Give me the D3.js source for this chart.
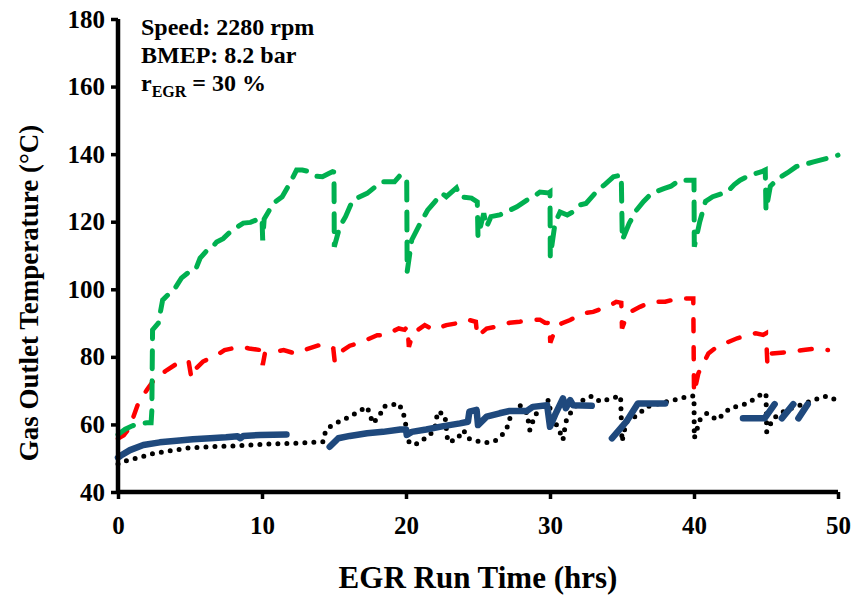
<!DOCTYPE html>
<html>
<head>
<meta charset="utf-8">
<script src="https://cdn.jsdelivr.net/npm/d3@7"></script>
<style>
  html, body { margin: 0; padding: 0; background: #fff; }
  svg { display: block; }
  text { font-family: "Liberation Serif", "Times New Roman", serif; font-weight: bold; fill: #000; }
</style>
</head>
<body>
<svg id="chart" width="855" height="595"></svg>
<script>
// ---------------- data (EGR run time in hrs, temperature in °C) ----------------
const xTicks = [0, 10, 20, 30, 40, 50];
const yTicks = [40, 60, 80, 100, 120, 140, 160, 180];
const xTitle = "EGR Run Time (hrs)";
const yTitle = "Gas Outlet Temperature (°C)";
const notes = ["Speed: 2280 rpm", "BMEP: 8.2 bar"];

const greenSeries = [[0,57],[0.5,58.6],[1,59.6],[1.5,60.2],[2,60.5],[2.3,60.5],[2.35,64],[2.4,88],[2.8,90],[3.1,96.8],[3.6,98.9],[4.0,100.6],[4.4,103.3],[5.1,105.7],[5.4,106],[5.7,109.2],[6.2,111.6],[6.5,112.2],[6.85,114],[7.3,115],[7.8,117],[8.3,118.5],[8.7,119.6],[9.2,119.8],[9.6,120.5],[10.0,121],[10.05,114.5],[10.15,120.8],[10.8,125.5],[11.4,127.4],[11.94,131.4],[12.4,135.3],[12.8,135.3],[13.3,134.8],[13.7,133.5],[14.2,133.3],[14.6,134.2],[14.9,134.8],[15.0,134.7],[15.02,112.6],[15.4,118.5],[15.8,121.5],[16.3,126.4],[17.3,128.4],[18.3,131.8],[19.2,131.8],[19.6,133.8],[19.9,132.9],[20.05,132.5],[20.08,105.2],[20.4,114.6],[21,119.6],[21.5,123.4],[22,125.9],[22.5,128.4],[22.8,127.4],[23.5,130],[23.75,127.4],[24.55,127],[24.95,125.9],[25.0,115.6],[25.4,122.5],[25.6,118.5],[25.9,121.5],[26.5,122],[27.2,123.4],[27.7,124.4],[28.4,126.4],[28.9,127.5],[29.3,128.8],[29.9,128.5],[30.0,128.8],[30.02,109.6],[30.35,119.6],[30.7,122.9],[31.2,122],[31.6,122.9],[32.1,125],[32.5,125.4],[33.2,128.8],[33.8,131],[34.4,133.3],[34.95,133.8],[35.02,114.6],[35.5,119.5],[36.0,123.4],[36.5,126],[37.05,128.4],[37.9,129.8],[38.4,130.5],[39.0,132.3],[39.95,132.3],[40.0,132.3],[40.02,112.6],[40.4,120],[40.8,126],[41.3,127.4],[42.3,128.8],[42.8,131],[43.2,132.3],[43.9,133.8],[44.7,134.8],[44.95,135.3],[45.0,123.4],[45.3,130.5],[45.85,132.8],[46.5,134.5],[47.1,136.3],[48.3,137.7],[49.2,138.7],[50,139.7]];

const redSeries = [[0,55.8],[0.4,56.8],[0.8,59],[1.4,66.2],[2.0,70.2],[2.57,73.6],[3.4,76.1],[4.2,78.3],[4.9,78.8],[5.1,73.7],[5.45,76.7],[5.9,78.6],[6.85,80.5],[7.4,82],[8.5,83],[9.1,82.5],[9.9,82],[10.05,77.6],[10.2,81],[10.8,81.5],[11.5,82],[12.3,81],[12.9,82],[14.0,83.5],[14.6,83.5],[14.95,82.5],[15.05,78.6],[15.3,81],[16.1,83.3],[16.8,84.2],[18.0,86.4],[18.5,86.4],[19.5,88.4],[19.9,88],[20.1,89],[20.2,83],[20.5,87],[21.3,89.4],[21.9,88],[22.8,89.4],[23.5,89.9],[24.2,91.1],[24.85,90.4],[24.95,86],[25.6,88.4],[26.1,88.8],[27.2,90.1],[27.9,90.4],[28.8,90.9],[29.3,91],[29.65,90.1],[29.95,90],[30.02,84.2],[30.4,88.5],[30.8,89.9],[31.4,90.9],[32.3,92.9],[33.0,93.3],[34.2,95.3],[34.6,96.3],[34.95,96],[35.0,88.4],[35.4,92.9],[36.25,94.8],[37.05,96.3],[38,96.3],[38.9,97.3],[39.95,97.3],[40.0,69.2],[40.3,75.1],[41,81],[41.6,83],[43,85.5],[44.3,87],[44.8,86.5],[45.0,87],[45.1,77.6],[45.4,81],[46.7,81.5],[47.6,82],[48.5,82.5],[49.3,82]];

// null marks a gap in the record
const blueSeries = [[0,50.2],[0.2,50.8],[0.83,52.4],[1.76,53.9],[2.9,54.7],[4.07,55.2],[5.2,55.6],[6.4,55.9],[7.5,56.2],[8.3,56.5],[8.5,55.9],[8.7,56.6],[9.86,56.9],[11.7,57],[11.8,null],[14.7,53.4],[15.3,55.9],[16.1,56.6],[17.3,57.4],[18.4,57.8],[19.6,58.5],[20.0,58.5],[20.05,56.9],[20.4,57.8],[21.4,58.5],[22.6,59.5],[23.75,60.3],[24.3,60.8],[24.4,63.8],[24.9,64.3],[25.0,59.8],[25.6,62.3],[26.5,63.3],[27.2,64],[28.4,64],[28.8,65.2],[29.8,65.7],[30.0,59.3],[30.35,62.8],[30.9,67.7],[31.1,64.8],[31.4,67.2],[31.6,65.7],[32.9,65.5],[33,null],[34.3,55.9],[35.3,60.8],[36.1,66.2],[37.6,66.2],[38.0,66.2],[38.1,null],[43.4,61.8],[44.9,61.8],[45.1,63],[45.6,66],[45.8,null],[46.1,61.8],[46.9,66],[47.0,null],[47.25,61.8],[47.9,66]];

const blackSeries = [[0,48.3],[0.37,49],[1.3,50],[2.45,51.4],[3.6,52.2],[5,53.1],[6.4,53.4],[7.8,53.6],[9.2,53.9],[10.6,54.2],[11.9,54.4],[13.3,54.6],[14.26,54.9],[14.4,57.8],[14.7,59.3],[15.1,60.3],[15.6,61.3],[16.1,62.3],[16.7,63.8],[17.3,65.2],[17.5,62.8],[17.7,60.3],[18.2,62.8],[18.4,65.2],[18.9,65.7],[19.5,66.2],[19.8,63.5],[19.95,61],[20.05,57.4],[20.2,54.9],[20.5,53.9],[21.1,54.9],[21.4,56.4],[21.8,57.5],[22.0,58.8],[22.2,63.8],[22.7,62.8],[22.9,54.9],[23.5,55.4],[24,58.3],[24.3,55.9],[25.1,54.9],[25.6,54.6],[26.2,55.2],[26.8,57.4],[27.1,59.8],[27.3,63.3],[27.9,65.7],[28.4,63.3],[28.6,58.3],[28.9,62],[29.3,65.2],[29.9,67.2],[30.1,62.3],[30.6,58.8],[30.9,55.4],[31.1,60.8],[31.6,64.8],[32.3,67.2],[32.9,68.4],[33.5,66.7],[34.2,67.7],[34.9,68.4],[35.0,54.9],[35.3,60.8],[36.1,62.8],[36.7,65.2],[37.6,66.2],[38.6,67.2],[39.7,68.4],[40.0,68.4],[40.02,55.9],[40.4,61.3],[40.9,63.3],[41.6,61.3],[42.5,64.8],[43.7,66.2],[44.6,68.7],[45.0,69.2],[45.05,57.8],[45.5,61.8],[46.4,64.3],[47.4,65.7],[48.3,67.2],[49.2,68.4],[49.8,67.4]];

// ---------------- drawing ----------------
const svg = d3.select("#chart");
const x = d3.scaleLinear().domain([0, 50]).range([118, 838]);
const y = d3.scaleLinear().domain([40, 180]).range([492, 19]);

const line = d3.line()
  .defined(d => d[1] !== null)
  .x(d => x(d[0]))
  .y(d => y(d[1]));

const plot = svg.append("g");

plot.append("path").datum(blackSeries)
  .attr("d", line).attr("fill", "none")
  .attr("stroke", "#000").attr("stroke-width", 5)
  .attr("stroke-linecap", "round").attr("stroke-dasharray", "0,9");

plot.append("path").datum(blueSeries)
  .attr("d", line).attr("fill", "none")
  .attr("stroke", "#1F497D").attr("stroke-width", 6.5)
  .attr("stroke-linecap", "round").attr("stroke-linejoin", "round");

plot.append("path").datum(redSeries)
  .attr("d", line).attr("fill", "none")
  .attr("stroke", "#FF0000").attr("stroke-width", 4.5)
  .attr("stroke-linecap", "round").attr("stroke-dasharray", "12,16");

plot.append("path").datum(greenSeries)
  .attr("d", line).attr("fill", "none")
  .attr("stroke", "#00B050").attr("stroke-width", 5)
  .attr("stroke-linecap", "round").attr("stroke-dasharray", "18,12");

// axes
const xAxis = d3.axisBottom(x).tickValues(xTicks).tickSize(7).tickSizeOuter(0).tickPadding(17);
const yAxis = d3.axisLeft(y).tickValues(yTicks).tickSize(7).tickSizeOuter(0).tickPadding(6);

const gx = svg.append("g").attr("transform", "translate(0,492)").call(xAxis);
const gy = svg.append("g").attr("transform", "translate(118,0)").call(yAxis);

[gx, gy].forEach(g => {
  g.select(".domain").attr("stroke", "#000").attr("stroke-width", 4.5);
  g.selectAll(".tick line").attr("stroke", "#000").attr("stroke-width", 3.5);
  g.selectAll(".tick text")
    .style("font-family", '"Liberation Serif", "Times New Roman", serif')
    .style("font-weight", "bold").style("font-size", "25px").attr("fill", "#000");
});
gx.select(".domain").attr("d", "M118,0H838");
gy.select(".domain").attr("d", "M0,19V494");

// axis titles
svg.append("text")
  .attr("x", 478).attr("y", 588)
  .attr("text-anchor", "middle")
  .style("font-size", "31px")
  .text(xTitle);

svg.append("text")
  .attr("transform", "translate(38,293) rotate(-90)")
  .attr("text-anchor", "middle")
  .style("font-size", "27px")
  .text(yTitle);

// annotations
const ann = svg.append("g");
notes.forEach((t, i) => {
  ann.append("text").attr("x", 141).attr("y", 35 + i * 28)
    .style("font-size", "24px").text(t);
});
const rt = ann.append("text").attr("x", 141).attr("y", 91).style("font-size", "24px");
rt.append("tspan").text("r");
rt.append("tspan").attr("dy", 6).style("font-size", "16px").text("EGR");
rt.append("tspan").attr("dy", -6).text(" = 30 %");
</script>
</body>
</html>
